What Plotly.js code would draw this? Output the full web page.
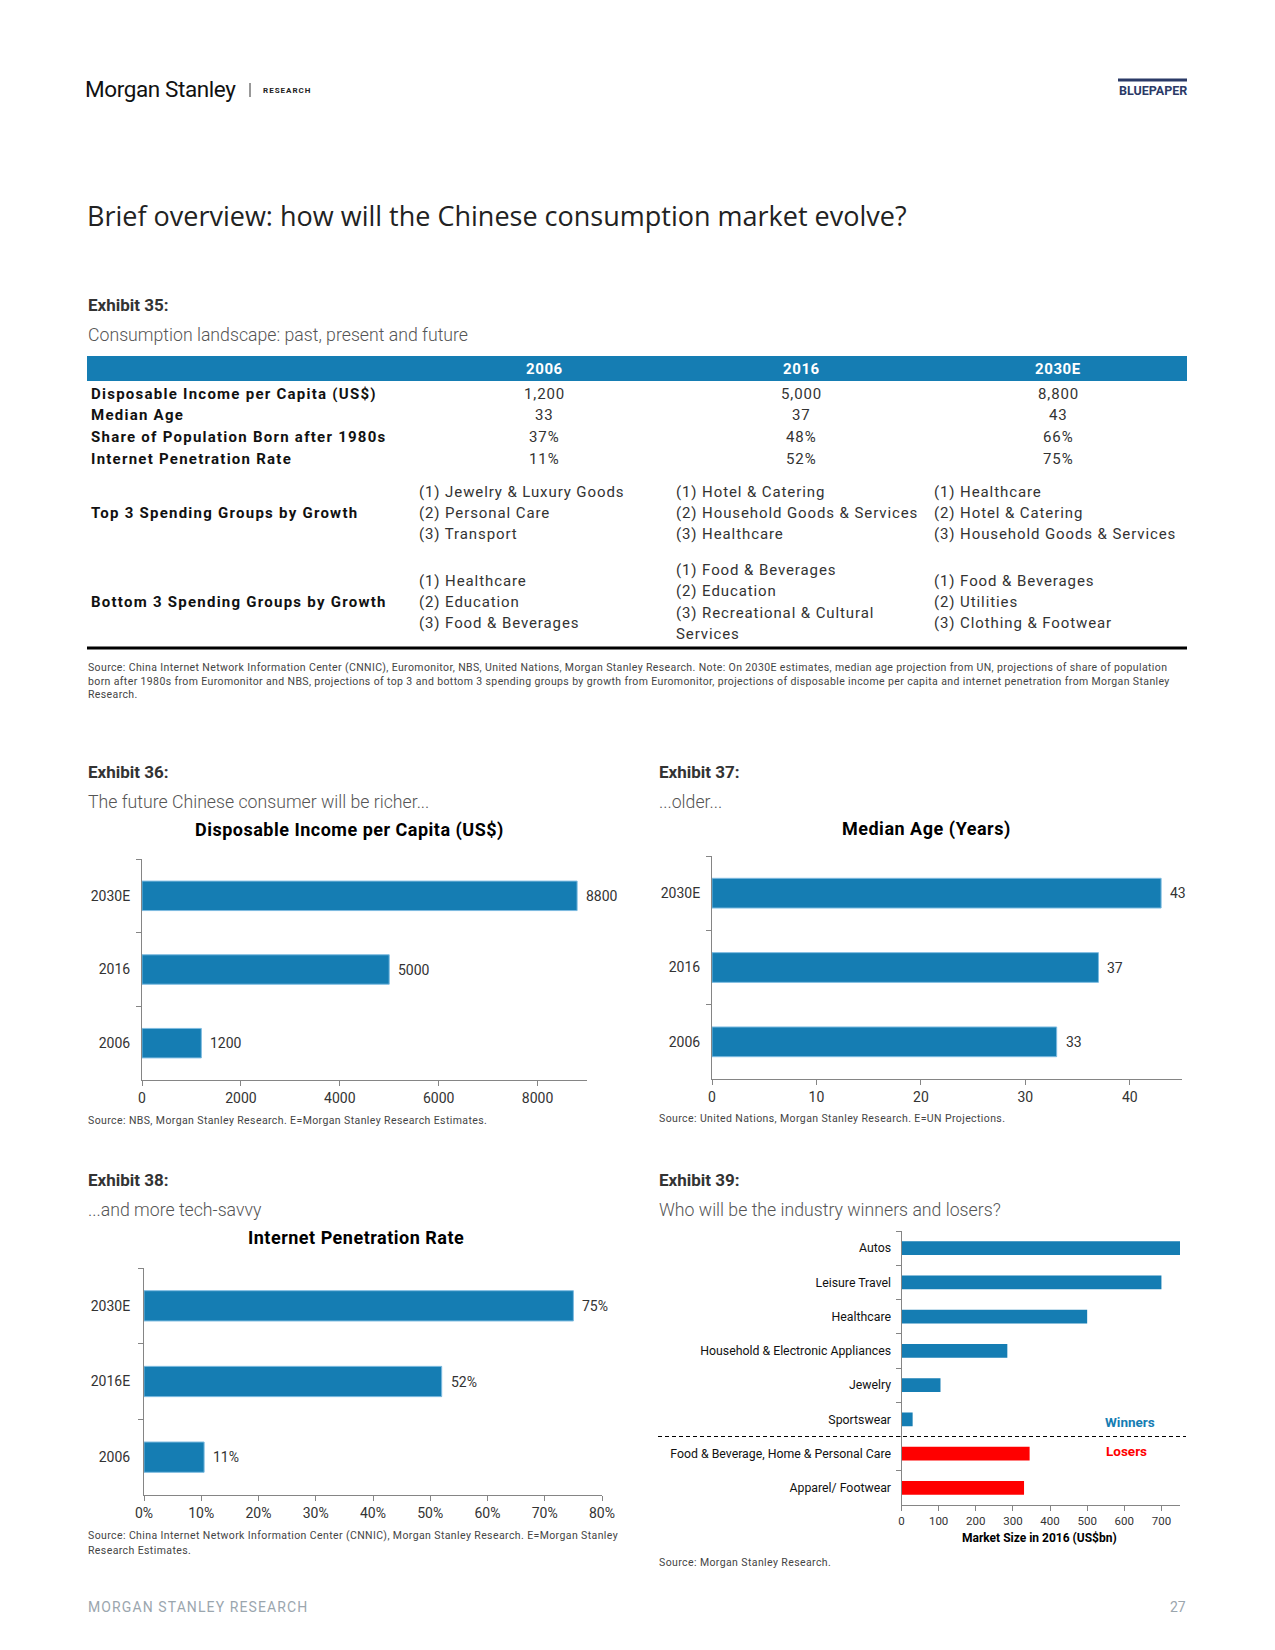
<!DOCTYPE html>
<html>
<head>
<meta charset="utf-8">
<script src="https://cdn.plot.ly/plotly-3.0.1.min.js"></script>
<style>
html,body{margin:0;padding:0;background:#fff;}
#page{width:1275px;height:1650px;}
</style>
</head>
<body>
<div id="page"></div>
<script>
// ---------------- DATA ----------------
const tableYears = ['2006', '2016', '2030E'];
const tableRowLabels = ['Disposable Income per Capita (US$)', 'Median Age', 'Share of Population Born after 1980s', 'Internet Penetration Rate'];
const incomeRow = ['1,200', '5,000', '8,800'];
const medianAgeRow = ['33', '37', '43'];
const born80sRow = ['37%', '48%', '66%'];
const internetRow = ['11%', '52%', '75%'];
const top3Label = 'Top 3 Spending Groups by Growth';
const top3_2006 = ['(1) Jewelry & Luxury Goods', '(2) Personal Care', '(3) Transport'];
const top3_2016 = ['(1) Hotel & Catering', '(2) Household Goods & Services', '(3) Healthcare'];
const top3_2030 = ['(1) Healthcare', '(2) Hotel & Catering', '(3) Household Goods & Services'];
const bottom3Label = 'Bottom 3 Spending Groups by Growth';
const bottom3_2006 = ['(1) Healthcare', '(2) Education', '(3) Food & Beverages'];
const bottom3_2016 = ['(1) Food & Beverages', '(2) Education', '(3) Recreational & Cultural', 'Services'];
const bottom3_2030 = ['(1) Food & Beverages', '(2) Utilities', '(3) Clothing & Footwear'];

const incomeYears = ['2030E', '2016', '2006'];
const incomeValues = [8800, 5000, 1200];
const ageYears = ['2030E', '2016', '2006'];
const ageValues = [43, 37, 33];
const netYears = ['2030E', '2016E', '2006'];
const netValues = [0.75, 0.52, 0.105];
const netLabels = ['75%', '52%', '11%'];
const sectors = ['Autos', 'Leisure Travel', 'Healthcare', 'Household & Electronic Appliances', 'Jewelry', 'Sportswear', 'Food & Beverage, Home & Personal Care', 'Apparel/ Footwear'];
const marketSize = [750, 700, 500, 285, 105, 30, 345, 330];
const sectorGroup = ['Winners', 'Winners', 'Winners', 'Winners', 'Winners', 'Winners', 'Losers', 'Losers'];

const source35 = [
  'Source: China Internet Network Information Center (CNNIC), Euromonitor, NBS, United Nations, Morgan Stanley Research. Note: On 2030E estimates, median age projection from UN, projections of share of population',
  'born after 1980s from Euromonitor and NBS, projections of top 3 and bottom 3 spending groups by growth from Euromonitor, projections of disposable income per capita and internet penetration from Morgan Stanley',
  'Research.'
];
const source36 = 'Source: NBS, Morgan Stanley Research. E=Morgan Stanley Research Estimates.';
const source37 = 'Source: United Nations, Morgan Stanley Research. E=UN Projections.';
const source38 = ['Source: China Internet Network Information Center (CNNIC), Morgan Stanley Research. E=Morgan Stanley', 'Research Estimates.'];
const source39 = 'Source: Morgan Stanley Research.';

// ---------------- HELPERS ----------------
const W = 1275, H = 1650;
const px = x => x / W;
const py = y => 1 - y / H;
const BLUE = '#157db3';
const EDGE = '#7dbbe0';
const RED = '#ff0000';
const AX = '#858585';
const FONT = 'Roboto, "Liberation Sans", sans-serif';

const ann = [];
const shapes = [];
function txt(x, y, text, o) {
  o = o || {};
  const t = o.ls ? '<span style="letter-spacing:' + o.ls + 'px">' + text + '</span>' : text;
  ann.push({
    xref: 'paper', yref: 'paper', x: px(x), y: py(y), text: t, showarrow: false,
    xanchor: o.xanchor || 'left', yanchor: 'middle', borderpad: 0,
    font: {family: o.family || FONT, size: o.size || 14, color: o.color || '#222', weight: o.weight || 400}
  });
}

// ---------------- PAGE HEADER ----------------
txt(84, 89, 'Morgan Stanley', {size: 22.5, weight: 400, color: '#111', ls: -0.4});
shapes.push({type: 'line', xref: 'paper', yref: 'paper', x0: px(250), x1: px(250), y0: py(83), y1: py(97), line: {color: '#333', width: 1}});
txt(262, 90, 'RESEARCH', {size: 8, weight: 700, color: '#222', ls: 1});
txt(1188, 90, 'BLUEPAPER', {xanchor: 'right', size: 12.5, weight: 700, color: '#2b3a67'});
shapes.push({type: 'line', xref: 'paper', yref: 'paper', x0: px(1118), x1: px(1187), y0: py(80), y1: py(80), line: {color: '#2b3a67', width: 3}});

txt(86, 216, 'Brief overview: how will the Chinese consumption market evolve?', {size: 27, color: '#222', family: '"Open Sans", "Noto Sans", sans-serif'});

// ---------------- EXHIBIT 35 TABLE ----------------
txt(87, 305, 'Exhibit 35:', {size: 17, weight: 700, color: '#333'});
txt(87, 335, 'Consumption landscape: past, present and future', {size: 17.7, weight: 300, color: '#555'});
shapes.push({type: 'rect', xref: 'paper', yref: 'paper', x0: px(87), x1: px(1187), y0: py(381), y1: py(356), fillcolor: BLUE, line: {width: 0}});
const colCenters = [544, 801, 1058];
const colLefts = [418, 675, 933];
tableYears.forEach((yr, i) => txt(colCenters[i], 369, yr, {xanchor: 'center', size: 15, weight: 700, color: '#fff', ls: 0.6}));
const rowY = [394, 415, 437, 459];
const rowVals = [incomeRow, medianAgeRow, born80sRow, internetRow];
tableRowLabels.forEach((lab, r) => {
  txt(90, rowY[r], lab, {size: 15, weight: 700, color: '#111', ls: 1.25});
  rowVals[r].forEach((v, i) => txt(colCenters[i], rowY[r], v, {xanchor: 'center', size: 15, color: '#333', ls: 0.9}));
});
txt(90, 513, top3Label, {size: 15, weight: 700, color: '#111', ls: 1.25});
[top3_2006, top3_2016, top3_2030].forEach((lines, i) => lines.forEach((l, k) => txt(colLefts[i], 492 + k * 21, l, {size: 15, color: '#333', ls: 0.9})));
txt(90, 602, bottom3Label, {size: 15, weight: 700, color: '#111', ls: 1.25});
[bottom3_2006, bottom3_2016, bottom3_2030].forEach((lines, i) => {
  const start = 602 - (lines.length - 1) * 21 / 2;
  lines.forEach((l, k) => txt(colLefts[i], start + k * 21, l, {size: 15, color: '#333', ls: 0.9}));
});
shapes.push({type: 'line', xref: 'paper', yref: 'paper', x0: px(87), x1: px(1187), y0: py(648), y1: py(648), line: {color: '#000', width: 3}});
source35.forEach((l, k) => txt(87, 667 + k * 14, l, {size: 10.5, color: '#444', ls: 0.38}));

// ---------------- EXHIBIT HEADINGS ----------------
const titleOpt = {xanchor: 'center', size: 18, weight: 700, color: '#000', ls: 0.5};
txt(87, 772, 'Exhibit 36:', {size: 17, weight: 700, color: '#333'});
txt(87, 802, 'The future Chinese consumer will be richer...', {size: 17.7, weight: 300, color: '#555'});
txt(349, 830, 'Disposable Income per Capita (US$)', titleOpt);
txt(87, 1120, source36, {size: 10.5, color: '#444', ls: 0.4});

txt(658, 772, 'Exhibit 37:', {size: 17, weight: 700, color: '#333'});
txt(658, 802, '...older...', {size: 17.7, weight: 300, color: '#555'});
txt(926, 829, 'Median Age (Years)', titleOpt);
txt(658, 1118, source37, {size: 10.5, color: '#444', ls: 0.4});

txt(87, 1180, 'Exhibit 38:', {size: 17, weight: 700, color: '#333'});
txt(87, 1210, '...and more tech-savvy', {size: 17.7, weight: 300, color: '#555'});
txt(356, 1237, 'Internet Penetration Rate', titleOpt);
source38.forEach((l, k) => txt(87, 1535 + k * 15, l, {size: 10.5, color: '#444', ls: 0.4}));

txt(658, 1180, 'Exhibit 39:', {size: 17, weight: 700, color: '#333'});
txt(658, 1210, 'Who will be the industry winners and losers?', {size: 17.7, weight: 300, color: '#555'});
txt(1039, 1538, 'Market Size in 2016 (US$bn)', {xanchor: 'center', size: 12, weight: 700, color: '#000'});
txt(1130, 1422, 'Winners', {xanchor: 'center', size: 13.5, weight: 700, color: BLUE});
txt(1126, 1451, 'Losers', {xanchor: 'center', size: 13.5, weight: 700, color: RED});
txt(658, 1562, source39, {size: 10.5, color: '#444', ls: 0.4});

// footer
txt(87, 1607, 'MORGAN STANLEY RESEARCH', {size: 14, color: '#9ba6ae', ls: 1.1});
txt(1187, 1607, '27', {xanchor: 'right', size: 14, color: '#9ba6ae'});

// ---------------- CHARTS ----------------
function valueLabels(xs, labels, xa, ya, size) {
  xs.forEach((v, i) => ann.push({xref: xa, yref: ya, x: v, y: i, text: labels[i], showarrow: false,
    xanchor: 'left', yanchor: 'middle', xshift: 7, font: {family: FONT, size: size, color: '#333'}}));
}
valueLabels(incomeValues, incomeValues.map(String), 'x', 'y', 14);
valueLabels(ageValues, ageValues.map(String), 'x2', 'y2', 14);
valueLabels(netValues, netLabels, 'x3', 'y3', 14);

shapes.push({type: 'line', xref: 'paper', yref: 'y4', x0: px(658), x1: px(1186), y0: 5.5, y1: 5.5, line: {color: '#000', width: 1, dash: '4px,3px'}});

function bar(x, y, xa, ya, colors, edge) {
  return {type: 'bar', orientation: 'h', x: x, y: y, xaxis: xa, yaxis: ya,
    marker: {color: colors, line: {color: edge, width: edge ? 1 : 0}}, hoverinfo: 'skip', cliponaxis: false};
}
const groupColor = {Winners: BLUE, Losers: RED};
const traces = [
  bar(incomeValues, incomeYears, 'x', 'y', BLUE, EDGE),
  bar(ageValues, ageYears, 'x2', 'y2', BLUE, EDGE),
  bar(netValues, netYears, 'x3', 'y3', BLUE, EDGE),
  bar(marketSize, sectors, 'x4', 'y4', sectorGroup.map(g => groupColor[g]), null)
];

function xax(dom, anchor, range, dtick, size, fmt) {
  return {domain: [px(dom[0]), px(dom[1])], anchor: anchor, range: range, dtick: dtick, tick0: 0,
    showline: true, linecolor: AX, linewidth: 1, ticks: 'outside', ticklen: 5, tickcolor: AX,
    showgrid: false, zeroline: false, tickformat: fmt || '', fixedrange: true,
    tickfont: {family: FONT, size: size, color: '#333'}};
}
function yax(dom, anchor, cats, size, standoff, color) {
  return {domain: [py(dom[1]), py(dom[0])], anchor: anchor, type: 'category',
    categoryorder: 'array', categoryarray: cats, range: [cats.length - 0.5, -0.5],
    showline: true, linecolor: AX, linewidth: 1, ticks: 'outside', tickson: 'boundaries', ticklen: 5, tickcolor: AX,
    showgrid: false, zeroline: false, fixedrange: true, ticklabelstandoff: standoff,
    tickfont: {family: FONT, size: size, color: color || '#333'}};
}

const layout = {
  width: W, height: H, margin: {l: 0, r: 0, t: 0, b: 0},
  paper_bgcolor: '#fff', plot_bgcolor: 'rgba(0,0,0,0)',
  showlegend: false, hovermode: false,
  font: {family: FONT},
  bargap: 0.6,
  xaxis: xax([142, 587], 'y', [0, 9000], 2000, 14),
  yaxis: yax([859, 1080], 'x', incomeYears, 14, 8),
  xaxis2: xax([712, 1182], 'y2', [0, 45], 10, 14),
  yaxis2: yax([856, 1079], 'x2', ageYears, 14, 8),
  xaxis3: xax([144, 602], 'y3', [0, 0.8], 0.1, 14, '.0%'),
  yaxis3: yax([1268, 1495], 'x3', netYears, 14, 10),
  xaxis4: xax([901.5, 1180], 'y4', [0, 750], 100, 11.5),
  yaxis4: yax([1231, 1505], 'x4', sectors, 12.3, 7, '#111'),
  annotations: ann,
  shapes: shapes
};

Plotly.newPlot('page', traces, layout, {displayModeBar: false, staticPlot: true});
</script>
</body>
</html>
